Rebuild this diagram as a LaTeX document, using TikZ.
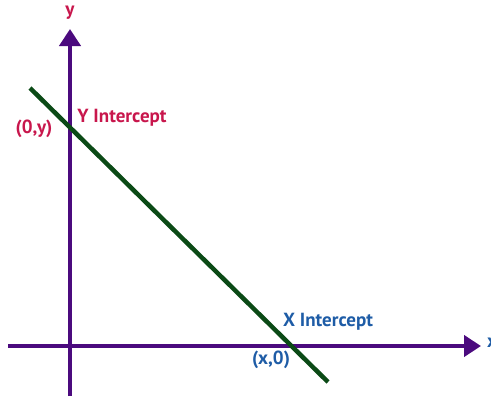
\documentclass[tikz,border=0pt]{standalone}
\usepackage{fontspec}
\setmainfont{PT Sans}
\usetikzlibrary{arrows.meta}

\definecolor{axispurple}{HTML}{4B0A7E}
\definecolor{linegreen}{HTML}{0B4A16}
\definecolor{ycrimson}{HTML}{C8164C}
\definecolor{xblue}{HTML}{1E5CA6}

\begin{document}
\begin{tikzpicture}[x=1pt,y=-1pt,
  axis/.style={axispurple,line width=4.5pt,-{Triangle[length=17pt,width=21pt]}},
  lbl/.style={font=\fontsize{19}{19}\selectfont\bfseries,inner sep=0pt}]
\useasboundingbox (0,0) rectangle (491,397);
% axes
\coordinate (xstart) at (8,346);
\coordinate (xend) at (481,346);
\coordinate (ystart) at (70,396);
\coordinate (yend) at (70,29);
\draw[axis] (xstart) -- (xend);
\draw[axis] (ystart) -- (yend);
\node[lbl,text=ycrimson] (ylabel) at (70,13) {y};
\node[lbl,text=xblue,anchor=west] (xlabel) at (487,343) {x};
% the line
\coordinate (lstart) at (30,88);
\coordinate (lend) at (328,382);
\draw[linegreen,line width=4.5pt] (lstart) -- (lend);
\node[lbl,text=ycrimson] (yint) at (122,118) {Y Intercept};
\node[lbl,text=ycrimson] (ypt) at (34,129) {(0,y)};
\node[lbl,text=xblue] (xint) at (328,322) {X Intercept};
\node[lbl,text=xblue] (xpt) at (271,360) {(x,0)};
\end{tikzpicture}
\end{document}
